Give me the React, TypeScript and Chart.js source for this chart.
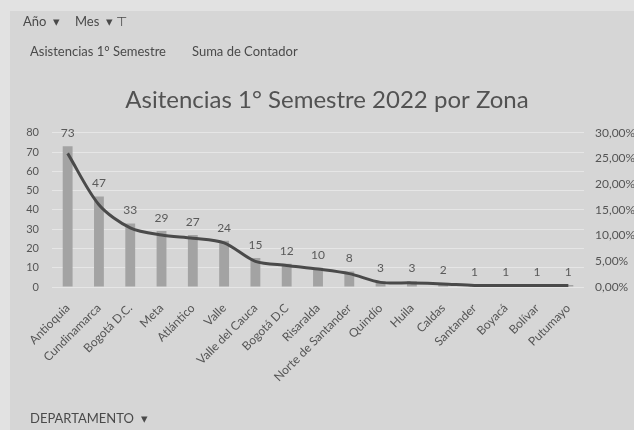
import React, { useEffect, useRef } from "react";
import { Chart, registerables } from "chart.js";

Chart.register(...registerables);

const categories = [
  "Antioquia",
  "Cundinamarca",
  "Bogotá D.C.",
  "Meta",
  "Atlántico",
  "Valle",
  "Valle del Cauca",
  "Bogotá D.C",
  "Risaralda",
  "Norte de Santander",
  "Quindío",
  "Huila",
  "Caldas",
  "Santander",
  "Boyacá",
  "Bolívar",
  "Putumayo",
];

const counts = [73, 47, 33, 29, 27, 24, 15, 12, 10, 8, 3, 3, 2, 1, 1, 1, 1];

const shares = [
  0.26, 0.16, 0.115, 0.101, 0.095, 0.086, 0.05, 0.042, 0.035, 0.026, 0.009,
  0.008, 0.006, 0.003, 0.003, 0.003, 0.003,
];

const leftAxis = { min: 0, max: 80, step: 10 };
const rightAxis = { min: 0, max: 0.3, step: 0.05 };

const titleText = "Asitencias 1° Semestre 2022 por Zona";
const FONT = "Lato, 'Open Sans', sans-serif";

const barLabels = {
  id: "barLabels",
  afterDatasetsDraw(chart: any) {
    const meta = chart.getDatasetMeta(0);
    const ctx = chart.ctx;
    ctx.save();
    ctx.font = `12px ${FONT}`;
    ctx.fillStyle = "#5a5a5a";
    ctx.textAlign = "center";
    ctx.textBaseline = "bottom";
    meta.data.forEach((el: any, i: number) => {
      ctx.fillText(String(counts[i]), el.x, el.y - 7);
    });
    ctx.restore();
  },
};

function Btn(props: { left: number; top: number; children: any }) {
  return (
    <div
      style={{
        position: "absolute",
        left: props.left,
        top: props.top,
        height: 16,
        lineHeight: "16px",
        fontSize: 13,
        fontFamily: FONT,
        color: "#4a4a4a",
        whiteSpace: "nowrap",
      }}
    >
      {props.children}
    </div>
  );
}

export default function App() {
  const ref = useRef<HTMLCanvasElement | null>(null);

  useEffect(() => {
    if (!ref.current) return;
    const chart = new Chart(ref.current, {
      data: {
        labels: categories,
        datasets: [
          {
            type: "bar",
            label: "Suma de Contador",
            data: counts,
            backgroundColor: "#a3a3a3",
            barPercentage: 0.9,
            categoryPercentage: 0.35,
            yAxisID: "y",
            order: 1,
          },
          {
            type: "line",
            label: "%",
            data: shares,
            borderColor: "#4a4a4a",
            borderWidth: 3,
            pointRadius: 0,
            tension: 0.3,
            yAxisID: "y1",
            order: 0,
          },
        ],
      } as any,
      options: {
        animation: false,
        responsive: false,
        maintainAspectRatio: false,
        layout: { padding: { left: 20, right: 0, top: 0, bottom: 33 } },
        plugins: {
          legend: { display: false },
          tooltip: { enabled: false },
          title: {
            display: true,
            text: titleText,
            color: "#525252",
            font: { family: FONT, size: 24, weight: "normal", lineHeight: 1.2 },
            padding: { top: 86, bottom: 18 },
          },
        },
        scales: {
          x: {
            offset: true,
            grid: { display: false },
            border: { display: false },
            ticks: {
              autoSkip: false,
              minRotation: 45,
              maxRotation: 45,
              color: "#555",
              padding: 6,
              font: { family: FONT, size: 12 },
            },
            afterFit: (s: any) => {
              s.height = 110;
            },
          },
          y: {
            position: "left",
            min: leftAxis.min,
            max: leftAxis.max,
            grid: { color: "#e6e6e6", lineWidth: 1, drawTicks: false },
            border: { display: false },
            ticks: {
              stepSize: leftAxis.step,
              padding: 13,
              color: "#555",
              font: { family: FONT, size: 11 },
            },
            afterFit: (s: any) => {
              s.width = 32;
            },
          },
          y1: {
            position: "right",
            min: rightAxis.min,
            max: rightAxis.max,
            grid: { display: false, drawTicks: false },
            border: { display: false },
            ticks: {
              stepSize: rightAxis.step,
              padding: 11,
              color: "#555",
              font: { family: FONT, size: 12 },
              callback: (v: any) =>
                (Number(v) * 100).toFixed(2).replace(".", ",") + "%",
            },
            afterFit: (s: any) => {
              s.width = 50;
            },
          },
        },
      } as any,
      plugins: [barLabels],
    });
    return () => chart.destroy();
  }, []);

  return (
    <div
      style={{
        position: "absolute",
        left: 0,
        top: 0,
        width: 634,
        height: 430,
        background: "#d6d6d6",
        overflow: "hidden",
      }}
    >
      <div
        style={{
          position: "absolute",
          left: 0,
          top: 0,
          width: 10,
          height: 430,
          background: "#e2e2e2",
        }}
      />
      <div
        style={{
          position: "absolute",
          left: 0,
          top: 0,
          width: 634,
          height: 11,
          background: "#e2e2e2",
        }}
      />
      <canvas
        ref={ref}
        width={634}
        height={430}
        style={{ position: "absolute", left: 0, top: 0, width: 634, height: 430 }}
      />
      <Btn left={23} top={13}>
        Año&nbsp;&nbsp;▾
      </Btn>
      <Btn left={75} top={13}>
        Mes&nbsp;&nbsp;▾&nbsp;⊤
      </Btn>
      <Btn left={30} top={43}>
        Asistencias 1° Semestre
      </Btn>
      <Btn left={192} top={43}>
        Suma de Contador
      </Btn>
      <Btn left={30} top={410}>
        DEPARTAMENTO&nbsp;&nbsp;▾
      </Btn>
    </div>
  );
}
